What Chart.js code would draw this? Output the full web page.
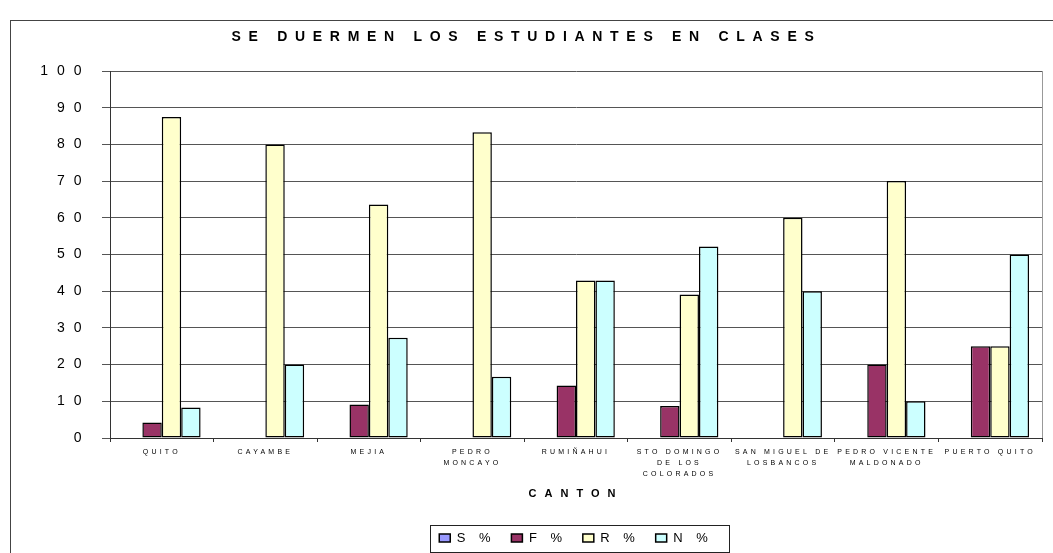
<!DOCTYPE html>
<html lang="es">
<head>
  <meta charset="UTF-8">
  <title>Se duermen los estudiantes en clases</title>
  <script src="https://cdn.jsdelivr.net/npm/chart.js"></script>
  <style>
    body { margin: 0; background: #fff; overflow: hidden; }
    #frame { position: absolute; left: 10px; top: 20px; width: 1046px; height: 540px; border: 1px solid #444; }
    canvas { display: block; }
  </style>
</head>
<body>
  <div id="frame"><canvas id="chart" width="1046" height="540"></canvas></div>

  <script>
    const cantones = [
      'QUITO', 'CAYAMBE', 'MEJIA', ['PEDRO', 'MONCAYO'], 'RUMIÑAHUI',
      ['STO DOMINGO', 'DE LOS', 'COLORADOS'], ['SAN MIGUEL DE', 'LOSBANCOS'],
      ['PEDRO VICENTE', 'MALDONADO'], 'PUERTO QUITO'
    ];
    const sPct = [0, 0, 0, 0, 0, 0, 0, 0, 0];
    const fPct = [4.2, 0, 9.1, 0, 14.3, 8.7, 0, 20, 25];
    const rPct = [87.5, 80, 63.6, 83.3, 42.9, 39.1, 60, 70, 25];
    const nPct = [8.3, 20, 27.3, 16.7, 42.9, 52.2, 40, 10, 50];
    const yTicks = [0, 10, 20, 30, 40, 50, 60, 70, 80, 90, 100];

    // the original text is drawn with wide character spacing; pick it by font
    function spacingFor(font) {
      const size = parseFloat((font.match(/([\d.]+)px/) || [0, 0])[1]);
      const bold = /bold|700/.test(font);
      if (bold && size === 14) return '7.7px';
      if (bold && size === 11) return '8px';
      if (size === 14) return '9px';
      if (size === 7) return '3.2px';
      if (size === 13) return '5px';
      return '0px';
    }
    const canvas = document.getElementById('chart');
    const ctx = canvas.getContext('2d');
    const origFill = ctx.fillText;
    const origMeasure = ctx.measureText;
    ctx.fillText = function (t, x, y, w) {
      this.letterSpacing = spacingFor(this.font);
      return w === undefined ? origFill.call(this, t, x, y) : origFill.call(this, t, x, y, w);
    };
    ctx.measureText = function (t) {
      this.letterSpacing = spacingFor(this.font);
      return origMeasure.call(this, t);
    };

    const frames = {
      id: 'frames',
      afterDraw(chart) {
        const c = chart.ctx;
        const a = chart.chartArea;
        c.save();
        c.strokeStyle = '#999';
        c.lineWidth = 1;
        c.beginPath();
        c.moveTo(Math.round(a.right) + 0.5, a.top);
        c.lineTo(Math.round(a.right) + 0.5, a.bottom);
        c.stroke();
        const hb = chart.legend.legendHitBoxes;
        if (hb && hb.length) {
          const first = hb[0], last = hb[hb.length - 1];
          const cy = first.top + first.height / 2;
          const left = Math.round(first.left - 9) + 0.5;
          const right = Math.round(last.left + last.width + 16) + 0.5;
          c.strokeStyle = '#222';
          c.strokeRect(left, Math.round(cy - 13) + 0.5, right - left, 27);
        }
        c.restore();
      }
    };

    Chart.defaults.font.family = "'Liberation Sans', Arial, sans-serif";
    Chart.defaults.color = '#000';

    new Chart(ctx, {
      type: 'bar',
      data: {
        labels: cantones,
        datasets: [
          { label: 'S %', data: sPct, backgroundColor: '#9999FF' },
          { label: 'F %', data: fPct, backgroundColor: '#993366' },
          { label: 'R %', data: rPct, backgroundColor: '#FFFFCC' },
          { label: 'N %', data: nPct, backgroundColor: '#CCFFFF' }
        ].map(d => Object.assign(d, { borderColor: '#000', borderWidth: 1.5, borderSkipped: false }))
      },
      options: {
        responsive: false,
        animation: false,
        devicePixelRatio: 1,
        categoryPercentage: 0.75,
        barPercentage: 1,
        layout: { padding: { left: 0, right: 15, top: 0, bottom: 6.5 } },
        plugins: {
          title: {
            display: true,
            text: 'SE DUERMEN LOS ESTUDIANTES EN CLASES',
            font: { size: 14, weight: 'bold' },
            color: '#000',
            padding: { top: 7.6, bottom: 25.6 }
          },
          legend: {
            position: 'bottom',
            fullSize: false,
            labels: {
              boxWidth: 11,
              boxHeight: 8,
              padding: 15.8,
              font: { size: 13 },
              color: '#000'
            }
          },
          tooltip: { enabled: false }
        },
        scales: {
          x: {
            grid: { display: true, drawOnChartArea: false, tickLength: 4, color: '#333', offset: true },
            border: { color: '#333' },
            ticks: {
              autoSkip: false,
              maxRotation: 0,
              padding: 5,
              color: '#000',
              font: { size: 7, lineHeight: 11 / 7 }
            },
            title: {
              display: true,
              text: 'CANTON',
              color: '#000',
              font: { size: 11, weight: 'bold' },
              padding: { top: 0, bottom: 15.1 }
            },
            afterFit(scale) { scale.height = 77.7; }
          },
          y: {
            min: 0,
            max: 100,
            afterBuildTicks(scale) { scale.ticks = yTicks.map(v => ({ value: v })); },
            grid: { color: '#555', tickLength: 8 },
            border: { color: '#333' },
            ticks: { padding: 11.5, color: '#000', font: { size: 14 } },
            afterFit(scale) { scale.width = 99; }
          }
        }
      },
      plugins: [frames]
    });
  </script>
</body>
</html>
